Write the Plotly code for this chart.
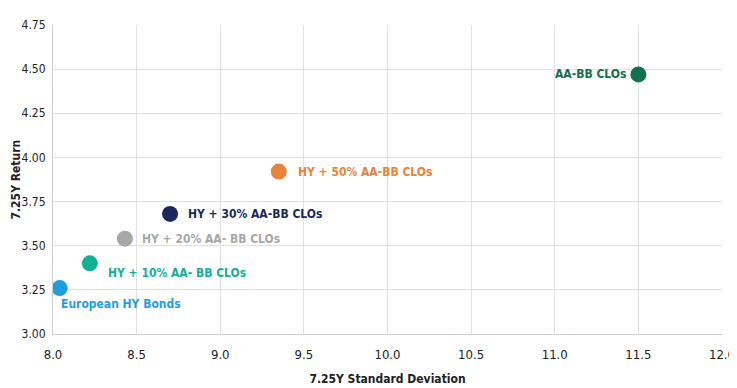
import plotly.graph_objects as go

names = ["European HY Bonds", "HY + 10% AA- BB CLOs", "HY + 20% AA- BB CLOs",
         "HY + 30% AA-BB CLOs", "HY + 50% AA-BB CLOs", "AA-BB CLOs"]
std_dev = [8.04, 8.22, 8.43, 8.70, 9.35, 11.50]
returns = [3.26, 3.40, 3.54, 3.68, 3.92, 4.47]
colors = ["#1f9ede", "#14ae94", "#a8a8a8", "#1b2a5c", "#e8833a", "#11704f"]
x_ticks = [8.0, 8.5, 9.0, 9.5, 10.0, 10.5, 11.0, 11.5, 12.0]
y_ticks = [3.00, 3.25, 3.50, 3.75, 4.00, 4.25, 4.50, 4.75]

# label placement: (xanchor, yanchor, xshift, yshift)
label_pos = [("left", "top", -1, -7), ("left", "middle", 16, -10), ("left", "middle", 15, 0),
             ("left", "middle", 16, 0), ("left", "middle", 17, 0), ("right", "middle", -10, 0)]

FONT = "DejaVu Sans Condensed, Roboto, sans-serif"

fig = go.Figure()
fig.add_trace(go.Scatter(
    x=std_dev, y=returns, mode="markers",
    marker=dict(size=16, color=colors, line=dict(width=0)),
    hoverinfo="skip", showlegend=False))

for n, xv, yv, c, (xa, ya, xs, ys) in zip(names, std_dev, returns, colors, label_pos):
    fig.add_annotation(x=xv, y=yv, text="<b>" + n + "</b>", showarrow=False,
                       xanchor=xa, yanchor=ya, xshift=xs, yshift=ys,
                       font=dict(family=FONT, size=12, color=c))

# y-axis title as a rotated annotation
fig.add_annotation(xref="paper", yref="paper", x=0, y=0.5, xshift=-38,
                   text="<b>7.25Y Return</b>", textangle=-90, showarrow=False,
                   xanchor="center", yanchor="middle",
                   font=dict(family=FONT, size=12, color="#222"))

fig.update_layout(
    width=729, height=380,
    margin=dict(l=45, r=15, t=17, b=54, autoexpand=False),
    plot_bgcolor="white", paper_bgcolor="white",
    font=dict(family=FONT, size=13, color="#222"),
    xaxis=dict(range=[8.0, 12.0], tickvals=x_ticks, ticktext=[f"{v:.1f}" for v in x_ticks],
               showgrid=True, gridcolor="#e0e0e0", gridwidth=1, automargin=False,
               showline=True, linecolor="#cfcfcf", zeroline=False,
               ticks="outside", ticklen=8, tickcolor="rgba(0,0,0,0)",
               title=dict(text="<b>7.25Y Standard Deviation</b>", standoff=14,
                          font=dict(size=12, color="#222"))),
    yaxis=dict(range=[3.0, 4.75], tickvals=y_ticks, ticktext=[f"{v:.2f}" for v in y_ticks],
               showgrid=True, gridcolor="#e0e0e0", gridwidth=1, automargin=False,
               showline=True, linecolor="#cfcfcf", zeroline=False,
               tickfont=dict(size=12),
               ticks="outside", ticklen=4, tickcolor="rgba(0,0,0,0)"),
)

fig.write_html("out.html")
